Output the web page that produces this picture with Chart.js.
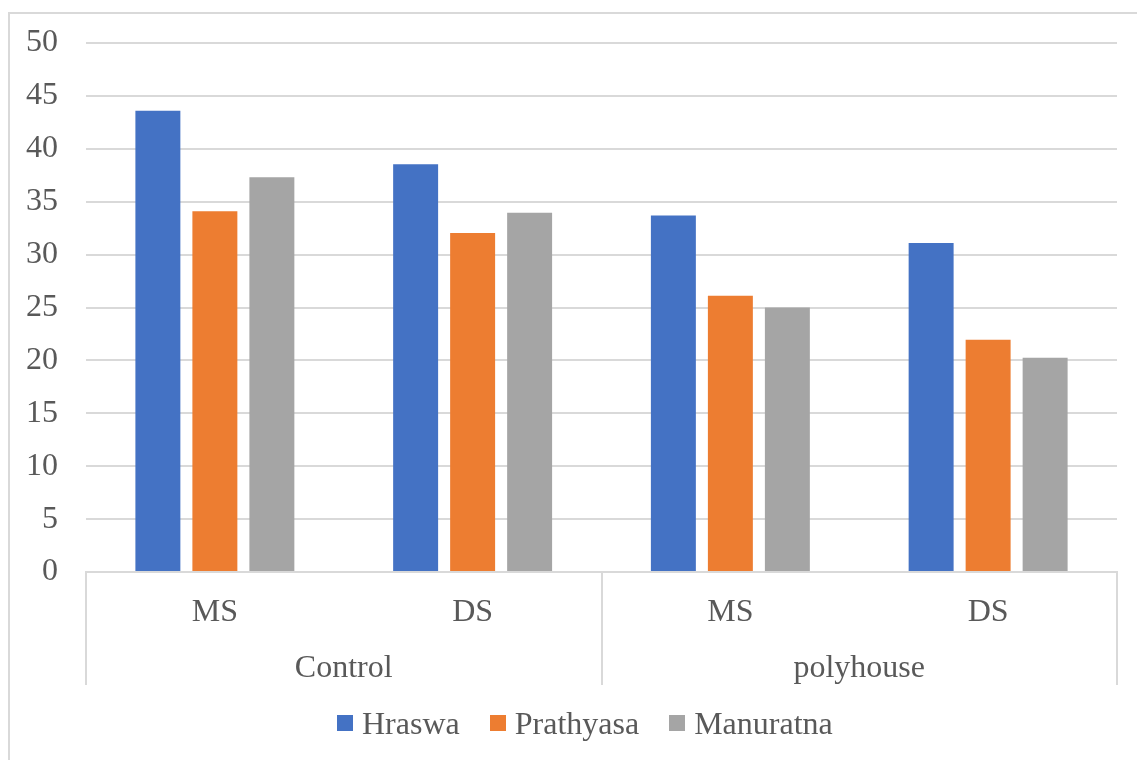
<!DOCTYPE html>
<html>
<head>
<meta charset="utf-8">
<script src="https://cdn.jsdelivr.net/npm/chart.js@4"></script>
<style>
  html, body { margin: 0; padding: 0; background: #ffffff; }
  body { width: 1137px; height: 760px; position: relative; overflow: hidden; }
  #frame {
    position: absolute; left: 8px; top: 12px; width: 1200px; height: 800px;
    border: 2px solid #d9d9d9; box-sizing: border-box;
  }
  #wrap { position: absolute; left: 0; top: 0; width: 1137px; height: 760px; }
  #legend {
    position: absolute; left: 337px; top: 704px; height: 38px;
    display: flex; align-items: center;
    font-family: "Liberation Serif", "Times New Roman", serif; font-size: 32px; color: #595959;
  }
  .item { display: flex; align-items: center; margin-right: 30px; }
  .swatch { width: 16px; height: 16px; margin-right: 9px; }
</style>
</head>
<body>
<div id="frame"></div>
<div id="wrap"><canvas id="chart" width="1137" height="760"></canvas></div>
<div id="legend"></div>
<script>
// Stress level within each growing condition
const categories = ['MS', 'DS', 'MS', 'DS'];
// Growing conditions, each spanning two stress levels
const groups = ['Control', 'polyhouse'];
const groupSpan = 2;

// Variety values per category
const hraswa    = [43.6, 38.55, 33.7, 31.1];
const prathyasa = [34.1, 32.05, 26.1, 21.95];
const manuratna = [37.3, 33.95, 25.0, 20.25];

const seriesNames  = ['Hraswa', 'Prathyasa', 'Manuratna'];
const seriesColors = ['#4472C4', '#ED7D31', '#A5A5A5'];

const yTicks = [0, 5, 10, 15, 20, 25, 30, 35, 40, 45, 50];

const textColor = '#595959';
const lineColor = '#d9d9d9';
const fontFamily = '"Liberation Serif", "Times New Roman", serif';

// Plot area edges on the canvas
const plotTop = 43;
const plotBottom = 572;

// Two-level category labels and group dividers under the x axis
const groupAxisPlugin = {
  id: 'groupAxis',
  afterDraw(chart) {
    const ctx = chart.ctx;
    const x = chart.scales.x;
    const area = chart.chartArea;
    const step = x.getPixelForValue(1) - x.getPixelForValue(0);
    ctx.save();
    ctx.font = '32px ' + fontFamily;
    ctx.fillStyle = textColor;
    ctx.textAlign = 'center';
    ctx.textBaseline = 'middle';
    categories.forEach((c, i) => {
      ctx.fillText(c, x.getPixelForValue(i), area.bottom + 41);
    });
    groups.forEach((g, gi) => {
      const a = x.getPixelForValue(gi * groupSpan);
      const b = x.getPixelForValue(gi * groupSpan + groupSpan - 1);
      ctx.fillText(g, (a + b) / 2, area.bottom + 97);
    });
    ctx.strokeStyle = lineColor;
    ctx.lineWidth = 2;
    for (let gi = 0; gi <= groups.length; gi++) {
      const px = Math.round(x.getPixelForValue(gi * groupSpan) - step / 2);
      ctx.beginPath();
      ctx.moveTo(px, area.bottom);
      ctx.lineTo(px, area.bottom + 113);
      ctx.stroke();
    }
    ctx.restore();
  }
};

const chart = new Chart(document.getElementById('chart'), {
  type: 'bar',
  data: {
    labels: categories,
    datasets: [hraswa, prathyasa, manuratna].map((d, i) => ({
      label: seriesNames[i],
      data: d,
      backgroundColor: seriesColors[i],
      borderWidth: 0,
      categoryPercentage: 0.6634,
      barPercentage: 0.789
    }))
  },
  options: {
    responsive: false,
    animation: false,
    layout: { padding: { top: plotTop, right: 20, bottom: 0, left: 0 } },
    plugins: { legend: { display: false }, tooltip: { enabled: false } },
    scales: {
      x: {
        grid: { display: false },
        border: { display: true, color: lineColor, width: 2 },
        ticks: { display: false },
        afterFit(scale) { scale.height = 760 - plotBottom; }
      },
      y: {
        min: 0,
        max: 50,
        afterBuildTicks(scale) { scale.ticks = yTicks.map(v => ({ value: v })); },
        grid: { color: lineColor, lineWidth: 2, drawTicks: false },
        border: { display: false },
        ticks: {
          padding: 28,
          color: textColor,
          font: { family: fontFamily, size: 32 }
        },
        afterFit(scale) {
          scale.width = 86;
          scale.paddingTop = 0;
          scale.paddingBottom = 0;
        }
      }
    }
  },
  plugins: [groupAxisPlugin]
});

// Legend built from the dataset names and colours
const legend = document.getElementById('legend');
seriesNames.forEach((name, i) => {
  const item = document.createElement('div');
  item.className = 'item';
  const sw = document.createElement('span');
  sw.className = 'swatch';
  sw.style.background = seriesColors[i];
  const label = document.createElement('span');
  label.textContent = name;
  item.appendChild(sw);
  item.appendChild(label);
  legend.appendChild(item);
});
</script>
</body>
</html>
